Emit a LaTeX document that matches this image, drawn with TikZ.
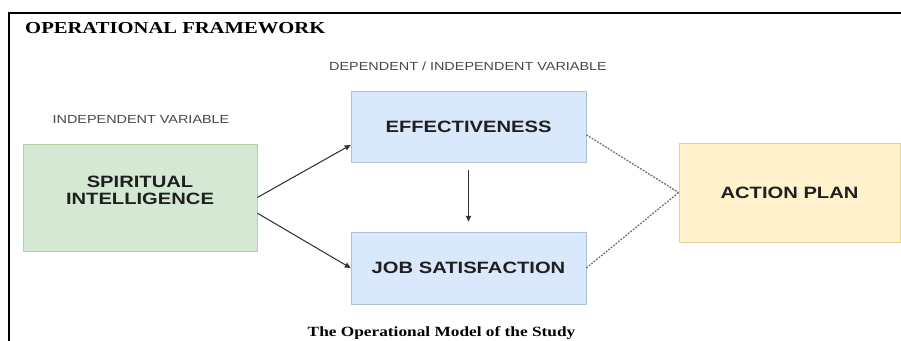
\documentclass[tikz,border=0pt]{standalone}
\usepackage{fontspec}
\setmainfont{Liberation Serif}[FakeStretch=1.23]
\setsansfont{Liberation Sans}[FakeStretch=1.23]
\usetikzlibrary{arrows.meta}

\definecolor{sigreen}{HTML}{D5E8D4}
\definecolor{siline}{HTML}{82B366}
\definecolor{varblue}{HTML}{DAE8FC}
\definecolor{varline}{HTML}{6C8EBF}
\definecolor{planyellow}{HTML}{FFF2CC}
\definecolor{planline}{HTML}{D6B656}

\begin{document}
\begin{tikzpicture}[x=0.03cm,y=-0.03cm,
	box/.style={rectangle,line width=0.6pt,align=center,text=black!88,
		font=\sffamily\bfseries\fontsize{14}{14.5}\selectfont},
	lbl/.style={font=\sffamily\fontsize{10}{12}\selectfont,text=black!72},
	arr/.style={-{Triangle[length=5pt,width=4.5pt]},line width=0.9pt,draw=black!80},
	dots/.style={dash pattern=on 1.6pt off 1.1pt,line width=1pt,draw=black!60}]
	\useasboundingbox (0,0) rectangle (901,341);
	% frame
	\draw[line width=1.5pt] (9,341) -- (9,13) -- (901,13);
	\node[font=\bfseries\fontsize{14.3}{17}\selectfont,anchor=west,inner sep=0] (title) at (25,28) {OPERATIONAL FRAMEWORK};
	% variables
	\node[lbl] (indep) at (141,119) {INDEPENDENT VARIABLE};
	\node[lbl] (depind) at (468,66) {DEPENDENT / INDEPENDENT VARIABLE};
	\node[box,fill=sigreen,draw=siline!60,minimum width=7.02cm,minimum height=3.21cm,
		label={[box,yshift=0.2cm]center:{SPIRITUAL\\INTELLIGENCE}}] (si) at (140,197.5) {};
	\node[box,fill=varblue,draw=varline!55,minimum width=7.05cm,minimum height=2.13cm] (eff) at (468.5,126.5) {EFFECTIVENESS};
	\node[box,fill=varblue,draw=varline!55,minimum width=7.05cm,minimum height=2.16cm] (job) at (468.5,268) {JOB SATISFACTION};
	\node[box,fill=planyellow,draw=planline!60,minimum width=6.63cm,minimum height=2.97cm] (act) at (789.5,192.5) {ACTION PLAN};
	% links
	\draw[arr] (si.east) -- ([yshift=-0.555cm]eff.west);
	\draw[arr] ([yshift=-0.47cm]si.east) -- (job.west);
	\draw[arr,shorten <=0.24cm,shorten >=0.3cm] (eff) -- (job);
	\draw[dots] ([yshift=-0.25cm]eff.east) -- (act.west);
	\draw[dots] (job.east) -- (act.west);
	\node[font=\bfseries\fontsize{12}{14}\selectfont] (caption) at (441.5,333) {The Operational Model of the Study};
\end{tikzpicture}
\end{document}
